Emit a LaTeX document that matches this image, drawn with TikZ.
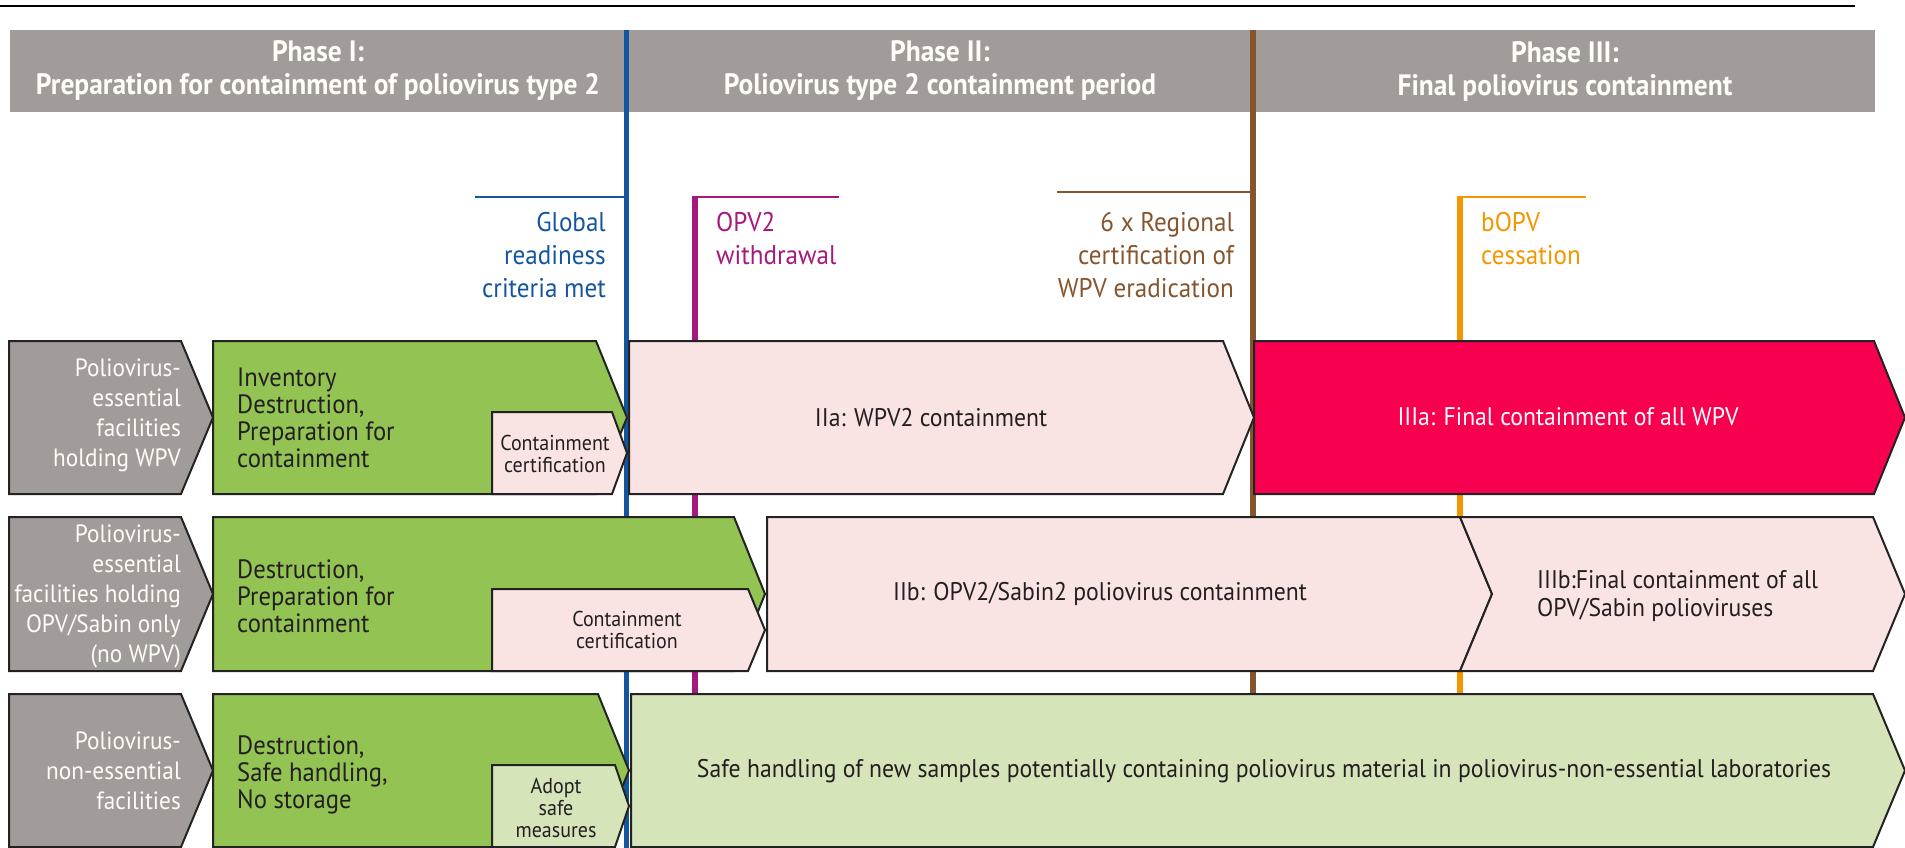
\documentclass[tikz,border=0pt]{standalone}
\usepackage{fontspec}
\setmainfont{PT Sans}[FakeStretch=0.93]
\definecolor{hdrgray}{RGB}{161,156,153}
\definecolor{grn}{RGB}{146,195,83}
\definecolor{pnk}{RGB}{250,227,227}
\definecolor{rd}{RGB}{247,0,79}
\definecolor{lgrn}{RGB}{213,228,185}
\definecolor{blu}{RGB}{20,85,160}
\definecolor{mag}{RGB}{165,25,125}
\definecolor{brn}{RGB}{135,85,45}
\definecolor{org}{RGB}{243,150,0}
\definecolor{outl}{RGB}{35,35,35}
\definecolor{txt}{RGB}{35,31,32}
\definecolor{cream}{RGB}{255,253,245}
\newcommand\pentabox[6]{%
  \path[#1] (#2,#3) -- (#4,#3) -- (#5,{(#3+#6)/2}) -- (#4,#6) -- (#2,#6) -- cycle;}
\tikzset{
  boxline/.style={draw=outl, line width=2pt, line join=miter},
  graybox/.style={boxline, fill=hdrgray},
  greenbox/.style={boxline, fill=grn},
  pinkbox/.style={boxline, fill=pnk},
  redbox/.style={boxline, fill=rd},
  lgbox/.style={boxline, fill=lgrn},
  hdrtext/.style={text=cream, font=\bfseries\fontsize{29.5}{33}\selectfont, align=center, inner sep=0pt},
  mlabel/.style={font=\fontsize{27}{33}\selectfont, inner sep=0pt},
  glabel/.style={text=cream, font=\fontsize{25}{30}\selectfont, align=right, anchor=east, inner sep=0pt},
  gtext/.style={text=txt, font=\fontsize{26.5}{27}\selectfont, align=left, anchor=west, inner sep=0pt},
  stext/.style={text=txt, font=\fontsize{21.5}{22}\selectfont, align=center, inner sep=0pt},
  btext/.style={text=txt, font=\fontsize{25.5}{28}\selectfont, align=center, inner sep=0pt},
  vmark/.style={line width=5.5pt},
  hmark/.style={line width=2pt}
}
\begin{document}
\begin{tikzpicture}[x=1pt,y=-1pt]
\useasboundingbox (0,0) rectangle (1905,848);
% top rule
\draw[line width=2.5pt] (0,6) -- (1855,6);
% header band
\fill[hdrgray] (10,30) rectangle (1875,112);
% milestone lines
\draw[vmark, blu] (626.5,30) -- (626.5,848);
\draw[hmark, blu] (475,197) -- (626.5,197);
\draw[vmark, mag] (695,196) -- (695,848);
\draw[hmark, mag] (695,197) -- (839,197);
\draw[vmark, brn] (1253,30) -- (1253,848);
\draw[hmark, brn] (1057,192) -- (1253,192);
\draw[vmark, org] (1460,196) -- (1460,848);
\draw[hmark, org] (1460,197) -- (1586,197);
% row 1
\pentabox{graybox}{9}{341}{181}{213}{494}
\pentabox{greenbox}{213}{341}{596}{627}{494}
\pentabox{pinkbox}{492}{412}{612}{627}{494}
\pentabox{pinkbox}{629}{341}{1223}{1254}{494}
\pentabox{redbox}{1254}{341}{1874}{1905}{494}
% row 2
\pentabox{graybox}{9}{517}{181}{213}{671}
\pentabox{greenbox}{213}{517}{734}{765}{671}
\pentabox{pinkbox}{492}{589}{748}{765}{671}
\pentabox{pinkbox}{767}{517}{1460}{1492}{671}
\path[pinkbox] (1460,517) -- (1873,517) -- (1905,594) -- (1873,671) -- (1460,671) -- (1492,594) -- cycle;
% row 3
\pentabox{graybox}{9}{694}{181}{213}{847}
\pentabox{greenbox}{213}{694}{598}{629}{847}
\pentabox{lgbox}{492}{765}{615}{629}{847}
\pentabox{lgbox}{631}{694}{1873}{1905}{847}
% header texts
\node[hdrtext] (ph1) at (318,71) {Phase I:\\Preparation for containment of poliovirus type 2};
\node[hdrtext] (ph2) at (940,71) {Phase II:\\Poliovirus type 2 containment period};
\node[hdrtext] (ph3) at (1565,71) {Phase III:\\Final poliovirus containment};
% milestone labels
\node[mlabel, text=blu, anchor=east, align=right] (mglobal) at (606,255) {Global\\readiness\\criteria met};
\node[mlabel, text=mag, anchor=west, align=left] (mopv) at (716,238.5) {OPV2\\withdrawal};
\node[mlabel, text=brn, anchor=east, align=right] (mreg) at (1234,255) {6 x Regional\\certification of\\WPV eradication};
\node[mlabel, text=org, anchor=west, align=left] (mbopv) at (1481,238.5) {bOPV\\cessation};
% row labels
\node[glabel] (g1) at (181,415) {Poliovirus-\\essential\\facilities\\holding WPV};
\node[glabel] (g2) at (181,596) {Poliovirus-\\essential\\facilities holding\\OPV/Sabin only\\(no WPV)};
\node[glabel] (g3) at (181,771) {Poliovirus-\\non-essential\\facilities};
% phase I texts
\node[gtext] (t1) at (237,418) {Inventory\\Destruction,\\Preparation for\\containment};
\node[gtext] (t2) at (237,596) {Destruction,\\Preparation for\\containment};
\node[gtext] (t3) at (237,775) {Destruction,\\Safe handling,\\No storage};
\node[stext] (c1) at (555,454) {Containment\\certification};
\node[stext] (c2) at (627,630) {Containment\\certification};
\node[stext] (c3) at (556,808) {Adopt\\safe\\measures};
% phase II/III texts
\node[btext] (iia) at (931,418) {IIa: WPV2 containment};
\node[btext, text=white] (iiia) at (1568,417) {IIIa: Final containment of all WPV};
\node[btext] (iib) at (1100,594) {IIb: OPV2/Sabin2 poliovirus containment};
\node[btext, anchor=west, align=left] (iiib) at (1537,596) {IIIb:Final containment of all\\OPV/Sabin polioviruses};
\node[btext] (safe) at (1264,771) {Safe handling of new samples potentially containing poliovirus material in poliovirus-non-essential laboratories};
\end{tikzpicture}
\end{document}
